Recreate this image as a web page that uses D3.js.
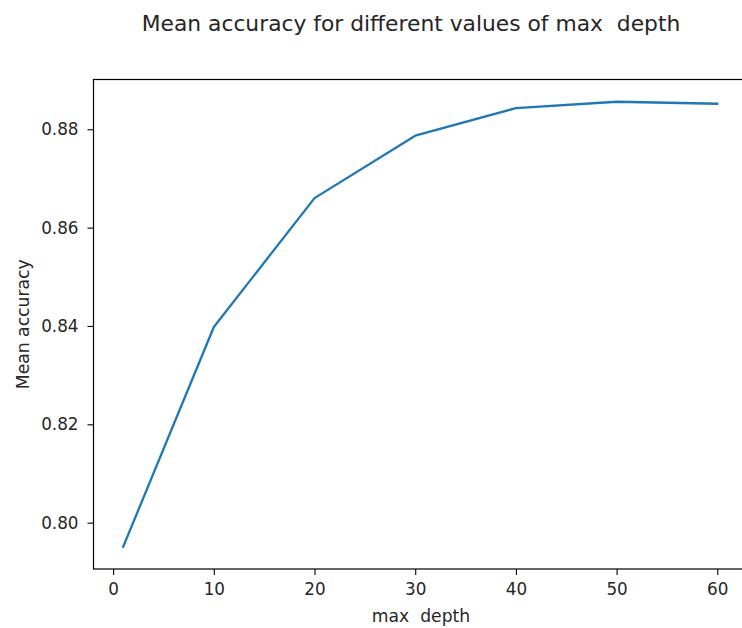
<!DOCTYPE html>
<html>
<head>
<meta charset="utf-8">
<script src="https://cdn.jsdelivr.net/npm/d3@7"></script>
<style>
  html, body { margin: 0; padding: 0; background: #fff; }
  svg { display: block; }
  text { font-family: "DejaVu Sans", sans-serif; fill: #262626; }
</style>
</head>
<body>
<svg id="chart" width="742" height="628"></svg>
<script>
const maxDepth = [1, 10, 20, 30, 40, 50, 60];
const meanAccuracy = [0.7951, 0.8398, 0.8660, 0.8787, 0.8843, 0.8856, 0.8852];
const xTicks = [0, 10, 20, 30, 40, 50, 60];
const yTicks = [0.80, 0.82, 0.84, 0.86, 0.88];
const titleText = "Mean accuracy for different values of max\u00a0\u00a0depth";
const xLabel = "max\u00a0\u00a0depth";
const yLabel = "Mean accuracy";

const svg = d3.select("#chart");
const mLeft = 93.5, mRight = 747, mTop = 79.5, mBottom = 569;

const xMin = d3.min(maxDepth), xMax = d3.max(maxDepth);
const xPad = (xMax - xMin) * 0.05;
const yMin = d3.min(meanAccuracy), yMax = d3.max(meanAccuracy);
const yPad = (yMax - yMin) * 0.05;

const x = d3.scaleLinear().domain([xMin - xPad, xMax + xPad]).range([mLeft, mRight]);
const y = d3.scaleLinear().domain([yMin - yPad, yMax + yPad]).range([mBottom, mTop]);

// line
const line = d3.line().x((d, i) => x(maxDepth[i])).y(d => y(d));
svg.append("path")
  .datum(meanAccuracy)
  .attr("d", line)
  .attr("fill", "none")
  .attr("stroke", "#1f77b4")
  .attr("stroke-width", 2.3)
  .attr("stroke-linejoin", "round")
  .attr("stroke-linecap", "square");

// axes
const xAxis = d3.axisBottom(x).tickValues(xTicks).tickSize(6).tickPadding(8).tickFormat(d3.format("d"));
const yAxis = d3.axisLeft(y).tickValues(yTicks).tickSize(6).tickPadding(9).tickFormat(d3.format(".2f"));

const gx = svg.append("g").attr("transform", `translate(0,${mBottom})`).call(xAxis);
const gy = svg.append("g").attr("transform", `translate(${mLeft},0)`).call(yAxis);
[gx, gy].forEach(g => {
  g.select(".domain").remove();
  g.selectAll(".tick line").attr("stroke", "#000").attr("stroke-width", 1.1);
  g.selectAll(".tick text").attr("font-size", "16.8px").attr("fill", "#262626")
    .style("font-family", '"DejaVu Sans", sans-serif');
});

// spines
svg.append("rect")
  .attr("x", mLeft).attr("y", mTop)
  .attr("width", mRight - mLeft).attr("height", mBottom - mTop)
  .attr("fill", "none").attr("stroke", "#000").attr("stroke-width", 1.2);

// title
svg.append("text")
  .attr("x", 411).attr("y", 31)
  .attr("text-anchor", "middle")
  .attr("font-size", "21.8px")
  .text(titleText);

// x label
svg.append("text")
  .attr("x", 421).attr("y", 622)
  .attr("text-anchor", "middle")
  .attr("font-size", "17.2px")
  .text(xLabel);

// y label
svg.append("text")
  .attr("transform", `translate(28.5,${(mTop + mBottom) / 2}) rotate(-90)`)
  .attr("text-anchor", "middle")
  .attr("font-size", "17.2px")
  .text(yLabel);
</script>
</body>
</html>
